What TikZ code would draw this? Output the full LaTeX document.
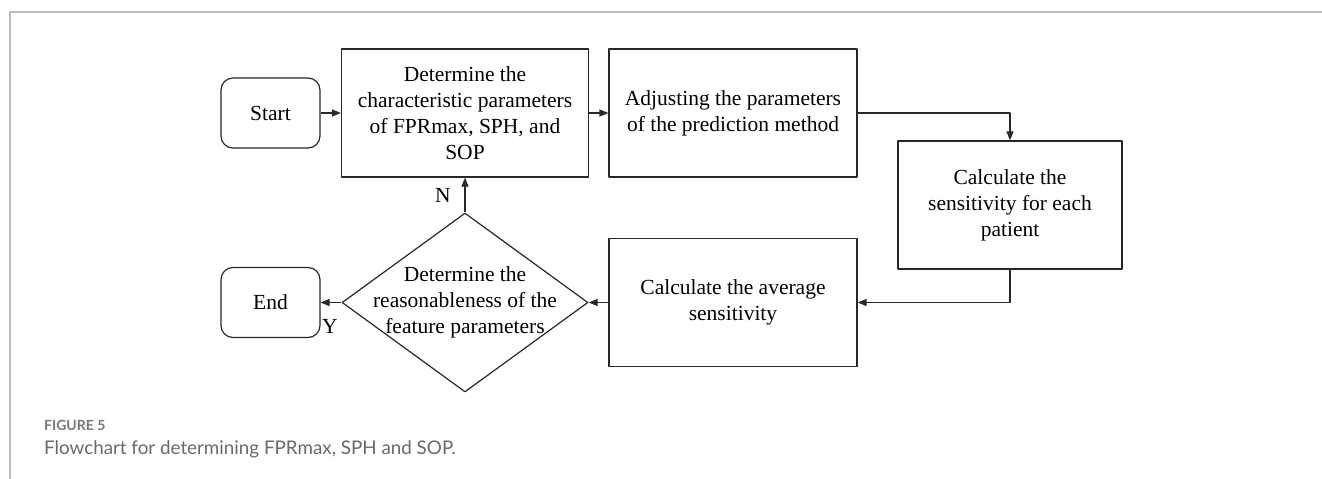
\documentclass[tikz,border=0pt]{standalone}
\usepackage{fontspec}
\setmainfont{Liberation Serif}
\newfontfamily\capfont{Lato}
\usetikzlibrary{shapes.geometric,arrows.meta}
\definecolor{linecol}{RGB}{40,40,40}
\definecolor{framecol}{RGB}{185,185,185}
\definecolor{capcol}{RGB}{105,105,105}
\definecolor{fignocol}{RGB}{120,120,120}

\begin{document}
\begin{tikzpicture}[line join=round,x=1pt,y=-1pt,>={Triangle[length=9pt,width=7pt]},font=\fontsize{21.5}{26}\selectfont]
	\tikzset{box/.style={draw=linecol,line width=1.2pt,align=center,inner sep=0pt,minimum width=248pt,minimum height=128pt},
		term/.style={box,rounded corners=12pt,minimum width=99pt,minimum height=70pt},
		flow/.style={->,draw=linecol,line width=1.2pt}}
	\def \ytop{113} \def \ybot{302.5}
	\useasboundingbox (0,0) rectangle (1322,479);
	% frame of the figure
	\draw[framecol,line width=2pt] (9.5,479) -- (9.5,11.5) -- (1322,11.5);
	% top row
	\node[term] (start) at (270.5,\ytop) {Start};
	\node[box,minimum width=247pt] (detpar) at (465,\ytop) {Determine the\\characteristic parameters\\of FPRmax, SPH, and\\SOP};
	\node[box] (adjust) at (733,\ytop) {Adjusting the parameters\\of the prediction method};
	\node[box,minimum width=224pt] (senspat) at (1010,205) {Calculate the\\sensitivity for each\\patient};
	% bottom row
	\node[box] (avgsens) at (733,\ybot) {Calculate the average\\sensitivity};
	\node[diamond,draw=linecol,line width=1.2pt,inner sep=0pt,minimum width=246pt,minimum height=179pt] (check) at (465,\ybot) {};
	\node[align=center,inner sep=0pt] (checktxt) at (check) {Determine the\\reasonableness of the\\feature parameters};
	\node[term] (end) at (270.5,\ybot) {End};
	% connectors
	\draw[flow] (start.east) -- (detpar.west);
	\draw[flow] (detpar.east) -- (adjust.west);
	\draw[flow] (adjust.east) -| (senspat.north);
	\draw[flow] (senspat.south) |- (avgsens.east);
	\draw[flow] (avgsens.west) -- (check.east);
	\draw[flow] (check.west) -- (end.east);
	\draw[flow] (check.north) -- (detpar.south);
	\node (nlab) at (443,195) {N};
	\node (ylab) at (330,326) {Y};
	% caption
	\node[anchor=base west,inner sep=0pt,text=fignocol,font=\capfont\bfseries\fontsize{14}{17}\selectfont] (figno) at (44,430) {FIGURE 5};
	\node[anchor=base west,inner sep=0pt,text=capcol,font=\capfont\fontsize{18.8}{22}\selectfont] (caption) at (44,454) {Flowchart for determining FPRmax, SPH and SOP.};
\end{tikzpicture}
\end{document}
